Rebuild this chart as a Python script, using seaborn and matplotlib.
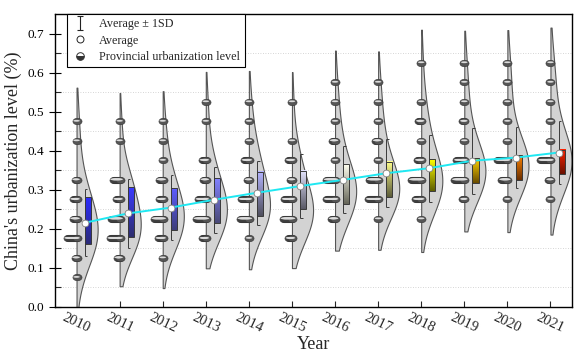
import numpy as np
import pandas as pd
import matplotlib
matplotlib.use('Agg')
import matplotlib.pyplot as plt
import seaborn as sns
from matplotlib.path import Path
from matplotlib.markers import MarkerStyle
from matplotlib.transforms import Affine2D
from matplotlib.lines import Line2D
from matplotlib.colors import to_rgb

# ---------------------------------------------------------------
# dados
# ---------------------------------------------------------------
years = [str(y) for y in range(2010, 2022)]

# niveis provinciais (centro da classe) e quantas provincias em cada
level_bins = [
    [0.075, 0.125, 0.175, 0.225, 0.275, 0.325, 0.425, 0.475],
    [0.125, 0.175, 0.225, 0.275, 0.325, 0.425, 0.475],
    [0.125, 0.175, 0.225, 0.275, 0.325, 0.375, 0.425, 0.475],
    [0.175, 0.225, 0.275, 0.325, 0.375, 0.475, 0.525],
    [0.175, 0.225, 0.275, 0.325, 0.375, 0.425, 0.475, 0.525],
    [0.175, 0.225, 0.275, 0.325, 0.375, 0.425, 0.525],
    [0.225, 0.275, 0.325, 0.375, 0.425, 0.475, 0.525, 0.575],
    [0.225, 0.275, 0.325, 0.375, 0.425, 0.475, 0.525, 0.575],
    [0.225, 0.275, 0.325, 0.375, 0.425, 0.475, 0.525, 0.625],
    [0.275, 0.325, 0.375, 0.425, 0.475, 0.525, 0.575, 0.625],
    [0.275, 0.325, 0.375, 0.425, 0.475, 0.525, 0.575, 0.625],
    [0.275, 0.325, 0.375, 0.425, 0.475, 0.525, 0.575, 0.625],
]
level_counts = [
    [1, 2, 10, 4, 4, 2, 1, 1],
    [3, 10, 9, 4, 7, 1, 1],
    [1, 5, 9, 4, 4, 1, 1, 1],
    [4, 10, 8, 3, 4, 1, 1],
    [1, 9, 8, 2, 5, 1, 1, 1],
    [4, 9, 8, 2, 4, 1, 1],
    [4, 9, 9, 1, 3, 1, 1, 1],
    [1, 10, 9, 1, 3, 1, 1, 1],
    [1, 6, 10, 4, 1, 3, 1, 1],
    [2, 10, 8, 1, 2, 1, 1, 1],
    [1, 6, 10, 1, 1, 1, 1, 1],
    [1, 2, 10, 1, 1, 1, 1, 1],
]

# caixa (quartis), media e desvio padrao
q1 = [0.161, 0.178, 0.197, 0.214, 0.233, 0.250, 0.263, 0.282, 0.297, 0.318, 0.325, 0.340]
q3 = [0.280, 0.306, 0.304, 0.329, 0.346, 0.348, 0.365, 0.372, 0.378, 0.382, 0.389, 0.402]
means = [0.215, 0.239, 0.254, 0.274, 0.292, 0.309, 0.325, 0.342, 0.355, 0.374, 0.382, 0.395]
sds = [0.086, 0.089, 0.084, 0.085, 0.082, 0.083, 0.086, 0.087, 0.086, 0.084, 0.078, 0.081]

# cores do gradiente de cada caixa (topo -> base)
box_top = ['#2b2bff', '#3a3aff', '#5c5cff', '#8282ff', '#b4b4ff', '#e4e4ff',
           '#fffff0', '#ffff8c', '#ffff00', '#ffd400', '#ff8400', '#ff2200']
box_bottom = ['#2c2c78', '#2e2e6e', '#3e3e7a', '#4a4a78', '#50505e', '#5a5a66',
              '#66665a', '#5c5c3a', '#5e5e00', '#6a4c00', '#6a2e00', '#6a1000']

# ---------------------------------------------------------------
# tabela longa
# ---------------------------------------------------------------
rows = []
for year, bins, counts in zip(years, level_bins, level_counts):
    for b, c in zip(bins, counts):
        for k in range(c):
            rows.append({'year': year, 'level': b, 'stack': k})
df = pd.DataFrame(rows)

sns.set_style('ticks')
plt.rcParams['font.family'] = ['Liberation Serif', 'DejaVu Serif']
plt.rcParams['mathtext.fontset'] = 'stix'

fig, ax = plt.subplots(figsize=(5.74, 3.57), dpi=100)
fig.subplots_adjust(left=55 / 574, right=572 / 574,
                    bottom=(357 - 306.7) / 357, top=(357 - 14) / 357)

# meio violino (corta o lado esquerdo)
sns.violinplot(data=df, x='year', y='level', order=years, inner=None, cut=1.2,
               bw_adjust=1.5, density_norm='width', width=0.98, color='#d3d3d3',
               linecolor='#555555', linewidth=0.8, saturation=1, ax=ax)
for coll in ax.collections:
    verts = coll.get_paths()[0].vertices.copy()
    center = round(verts[:, 0].mean())
    verts[:, 0] = np.maximum(verts[:, 0], center)
    coll.set_verts([verts])
    coll.set_zorder(1)

# pontos empilhados para a esquerda
pos = {y: i for i, y in enumerate(years)}
step = 1 / 43.1
df['x'] = df['year'].map(pos) - df['stack'] * step
d = df.sort_values('stack', ascending=False)
pill = MarkerStyle('o', transform=Affine2D().scale(1.4, 1.0))
shine = MarkerStyle('o', transform=Affine2D().scale(1.0, 0.28).translate(0, 0.08))
ax.scatter(d['x'], d['level'], s=22, marker=pill, facecolor='#555555',
           edgecolor='#333333', linewidths=0.4, zorder=4)
ax.scatter(d['x'], d['level'], s=22, marker=shine, facecolor='#dcdcdc',
           edgecolor='none', zorder=4.1)

# caixas com gradiente
box_x = np.arange(len(years)) + 0.19
bars = ax.bar(box_x + 0.07, np.array(q3) - np.array(q1), bottom=q1, width=0.14,
              facecolor='none', edgecolor='#3a3a3a', linewidth=0.7, zorder=3)
for bar, ctop, cbot in zip(bars, box_top, box_bottom):
    x0, y0 = bar.get_x(), bar.get_y()
    grad = np.linspace(to_rgb(ctop), to_rgb(cbot), 64)[:, None, :]
    ax.imshow(grad, extent=(x0, x0 + bar.get_width(), y0, y0 + bar.get_height()),
              aspect='auto', zorder=2.9, interpolation='bilinear')

# media +- 1 DP
means_a = np.array(means)
lo = means_a - np.array(sds)
hi = means_a + np.array(sds)
ax.vlines(box_x, lo, hi, color='#3a3a3a', lw=0.7, zorder=3.5)
ax.hlines(hi, box_x, box_x + 0.06, color='#3a3a3a', lw=0.7, zorder=3.5)
ax.hlines(lo, box_x, box_x + 0.06, color='#3a3a3a', lw=0.7, zorder=3.5)

ax.plot(box_x, means, color='#1ee8f2', lw=1.4, zorder=5)
ax.scatter(box_x, means, s=24, facecolor='white', edgecolor='#808080',
           linewidths=0.6, zorder=6)

# eixos
ax.set_xlim(-0.5, 11.5)
ax.set_ylim(0, 0.75)
yt = np.arange(0, 0.71, 0.1)
ax.set_yticks(yt)
ax.set_yticklabels([f'{v:.1f}' for v in yt])
ax.set_yticks(np.arange(0.05, 0.7, 0.1), minor=True)
ax.tick_params(axis='y', which='major', direction='inout', length=9, width=0.8,
               labelsize=9.5, colors='black')
ax.tick_params(axis='y', which='minor', direction='in', length=4.5, width=0.8)
ax.tick_params(axis='x', direction='in', length=4.5, width=0.8, labelsize=10.5, pad=3)
for lab in ax.get_xticklabels():
    lab.set_rotation(-25)
    lab.set_ha('center')
ax.grid(which='minor', axis='y', linestyle=(0, (1, 2)), color='#c8c8c8', lw=0.6)
ax.set_axisbelow(True)
for sp in ax.spines.values():
    sp.set_visible(True)
    sp.set_color('black')
    sp.set_linewidth(1.0)

ax.set_xlabel('Year', fontsize=13, labelpad=1)
ax.set_ylabel("China's urbanization level (%)", fontsize=13, labelpad=4)

# legenda
ibeam = Path([(-0.5, 1), (0.5, 1), (0, 1), (0, -1), (-0.5, -1), (0.5, -1)],
             [Path.MOVETO, Path.LINETO, Path.MOVETO, Path.LINETO, Path.MOVETO, Path.LINETO])
handles = [
    Line2D([], [], linestyle='none', marker=ibeam, markersize=10,
           markeredgecolor='#222222', markerfacecolor='none', markeredgewidth=0.8),
    Line2D([], [], linestyle='none', marker='o', markersize=5,
           markerfacecolor='white', markeredgecolor='#222222', markeredgewidth=0.7),
    Line2D([], [], linestyle='none', marker='o', markersize=5.5, fillstyle='bottom',
           markerfacecolor='#333333', markerfacecoloralt='white',
           markeredgecolor='#333333', markeredgewidth=0.7),
]
labels = ['Average ± 1SD', 'Average', 'Provincial urbanization level']
leg = ax.legend(handles, labels, loc='upper left', bbox_to_anchor=(0.0226, 1.0),
                borderaxespad=0, frameon=True, fancybox=False, edgecolor='black',
                framealpha=1, fontsize=8.7, handlelength=1.5, handletextpad=0.85,
                labelspacing=0.36, borderpad=0.35)
leg.get_frame().set_linewidth(0.8)

fig.savefig('out.png', dpi=100)
plt.close(fig)
